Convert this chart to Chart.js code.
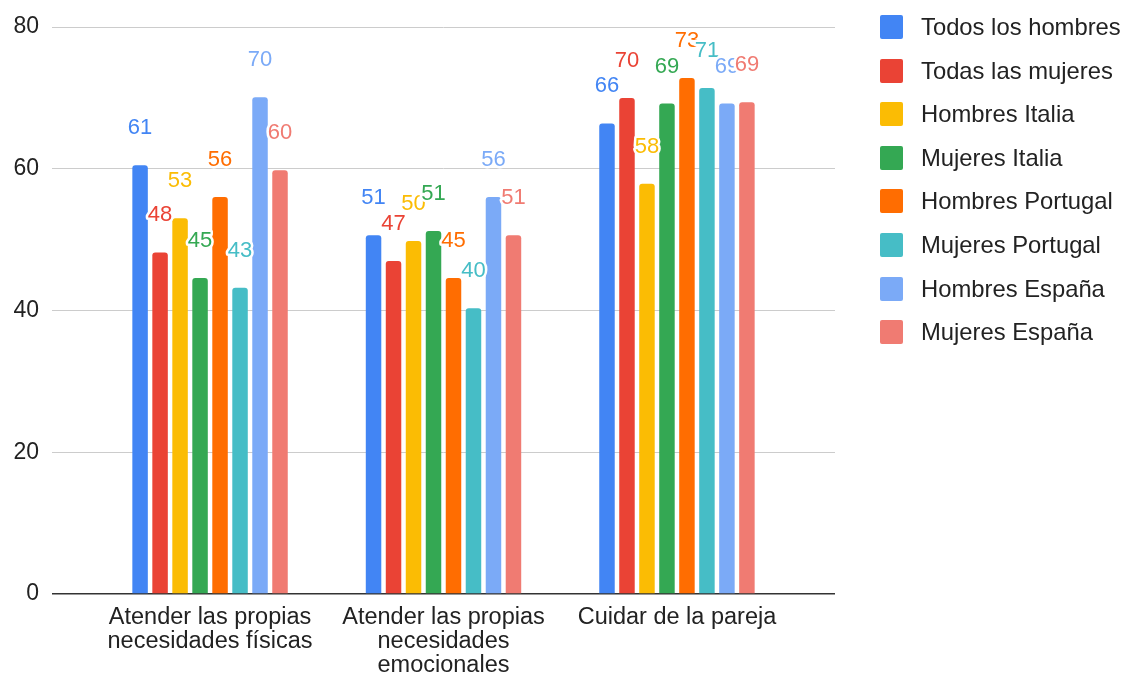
<!DOCTYPE html>
<html>
<head>
<meta charset="utf-8">
<script src="https://cdn.jsdelivr.net/npm/chart.js@4/dist/chart.umd.min.js"></script>
<style>
  html, body { margin: 0; padding: 0; background: #fff; }
  #wrap { position: relative; width: 1123px; height: 674px; overflow: hidden; }
  #c { position: absolute; left: 0; top: 0; }
  #legend { position: absolute; left: 880px; top: 15px; margin: 0; padding: 0; list-style: none;
            font-family: "Liberation Sans", Arial, sans-serif; font-size: 23.8px; color: #222; }
  #legend li { display: flex; align-items: center; height: 24px; margin-bottom: 19.6px; white-space: nowrap; }
  #legend .sw { width: 23px; height: 24px; border-radius: 2px; margin-right: 18px; flex: none; }
</style>
</head>
<body>
<div id="wrap">
  <canvas id="c" width="1123" height="674"></canvas>
  <ul id="legend"></ul>
</div>
<script>
// Categories (multi-line axis labels)
const categories = [
  ["Atender las propias", "necesidades físicas"],
  ["Atender las propias", "necesidades", "emocionales"],
  "Cuidar de la pareja"
];

// Series names
const seriesNames = [
  "Todos los hombres", "Todas las mujeres", "Hombres Italia", "Mujeres Italia",
  "Hombres Portugal", "Mujeres Portugal", "Hombres España", "Mujeres España"
];

// Values per series (one value per category)
const todosHombres    = [60.5, 50.6, 66.4];
const todasMujeres    = [48.2, 47.0, 70.0];
const hombresItalia   = [53.0, 49.8, 57.9];
const mujeresItalia   = [44.6, 51.2, 69.2];
const hombresPortugal = [56.0, 44.6, 72.8];
const mujeresPortugal = [43.2, 40.3, 71.4];
const hombresEspana   = [70.1, 56.0, 69.2];
const mujeresEspana   = [59.8, 50.6, 69.4];

// Y axis ticks
const yTicks = [0, 20, 40, 60, 80];

const seriesValues = [todosHombres, todasMujeres, hombresItalia, mujeresItalia,
                      hombresPortugal, mujeresPortugal, hombresEspana, mujeresEspana];
const colors = ["#4285F4", "#EA4335", "#FBBC04", "#34A853",
                "#FF6D01", "#46BDC6", "#7BAAF7", "#F07B72"];

const FONT = '"Liberation Sans", Arial, sans-serif';

// Rounded value labels with a white halo above each bar
const valueLabels = {
  id: 'valueLabels',
  afterDatasetsDraw(chart) {
    const ctx = chart.ctx;
    ctx.save();
    ctx.font = '22px ' + FONT;
    ctx.textAlign = 'center';
    ctx.textBaseline = 'middle';
    ctx.lineJoin = 'round';
    chart.data.datasets.forEach((ds, i) => {
      const meta = chart.getDatasetMeta(i);
      meta.data.forEach((bar, j) => {
        const txt = String(Math.round(ds.data[j]));
        const y = bar.y - 37;
        ctx.lineWidth = 5;
        ctx.strokeStyle = '#fff';
        ctx.strokeText(txt, bar.x, y);
        ctx.fillStyle = ds.backgroundColor;
        ctx.fillText(txt, bar.x, y);
      });
    });
    ctx.restore();
  }
};

new Chart(document.getElementById('c'), {
  type: 'bar',
  data: {
    labels: categories,
    datasets: seriesNames.map((name, i) => ({
      label: name,
      data: seriesValues[i],
      backgroundColor: colors[i],
      borderRadius: 3,
      borderSkipped: 'bottom',
      categoryPercentage: 0.685,
      barPercentage: 0.775
    }))
  },
  options: {
    responsive: false,
    animation: false,
    layout: { padding: { top: 27, right: 288, bottom: 0, left: 0 } },
    plugins: {
      legend: { display: false },
      tooltip: { enabled: false }
    },
    scales: {
      x: {
        grid: { display: false, drawTicks: false },
        border: { display: false },
        ticks: {
          font: { family: FONT, size: 23.5, lineHeight: 1.02 },
          color: '#222',
          maxRotation: 0,
          autoSkip: false,
          padding: 12
        },
        afterBuildTicks(scale) {
          scale._startValue = -0.677;
          scale._valueRange = 3.354;
        },
        afterFit(scale) { scale.height = 80; }
      },
      y: {
        min: 0,
        max: 80,
        afterBuildTicks(scale) { scale.ticks = yTicks.map(v => ({ value: v })); },
        ticks: {
          font: { family: FONT, size: 23 },
          color: '#222',
          padding: 13
        },
        grid: {
          drawTicks: false,
          color: c => (c.tick && c.tick.value === 0) ? '#333' : '#ccc',
          lineWidth: c => (c.tick && c.tick.value === 0) ? 1.5 : 1
        },
        border: { display: false },
        afterFit(scale) { scale.width = 52; }
      }
    }
  },
  plugins: [valueLabels]
});

// Legend
const legend = document.getElementById('legend');
seriesNames.forEach((name, i) => {
  const li = document.createElement('li');
  const sw = document.createElement('span');
  sw.className = 'sw';
  sw.style.background = colors[i];
  const tx = document.createElement('span');
  tx.textContent = name;
  li.appendChild(sw);
  li.appendChild(tx);
  legend.appendChild(li);
});
</script>
</body>
</html>
